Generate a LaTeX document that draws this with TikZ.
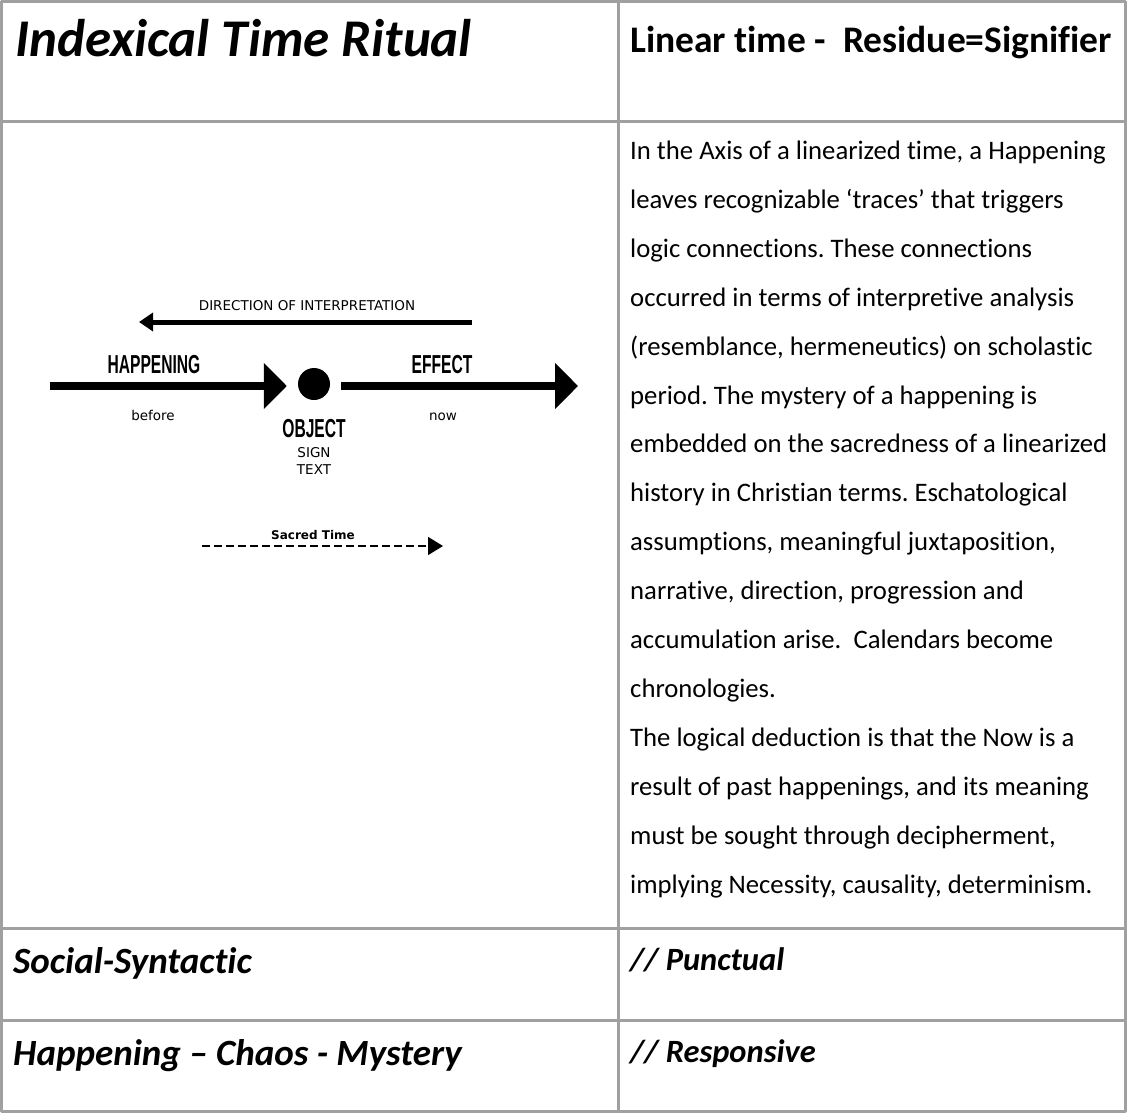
\documentclass[tikz,border=0pt]{standalone}
\usepackage{fontspec}
\usepackage{graphicx}
\setmainfont{Carlito}[Ligatures=NoCommon]
\newfontfamily\verdfont{DejaVu Sans}
\newfontfamily\condfont{Liberation Sans}
\usetikzlibrary{arrows.meta}
\definecolor{rulegrey}{RGB}{160,160,160}
\newcommand{\condtext}[1]{\scalebox{0.6}[1]{\condfont\bfseries #1}}
\frenchspacing

\begin{document}
\begin{tikzpicture}[x=1pt, y=-1pt, line join=round,
    rule/.style={draw=rulegrey, line width=3pt},
    cell/.style={anchor=base west, inner sep=0pt},
    bigtitle/.style={cell, font=\fontsize{53}{58}\selectfont\bfseries\itshape},
    subtitle/.style={cell, font=\fontsize{37.5}{42}\selectfont\bfseries},
    rowtitle/.style={cell, font=\fontsize{37}{42}\selectfont\bfseries\itshape},
    rowtag/.style={cell, font=\fontsize{32.5}{38}\selectfont\bfseries\itshape},
    bodyline/.style={cell, font=\fontsize{26.7}{32}\selectfont},
    small/.style={anchor=base, inner sep=0pt, font=\verdfont\fontsize{13.5}{16}\selectfont},
    cond/.style={anchor=base, inner sep=0pt, font=\fontsize{26}{30}\selectfont},
    bigarrow/.style={line width=8pt, -{Triangle[length=23pt,width=45pt]}},
    dirarrow/.style={line width=5pt, -{Triangle[length=14pt,width=18pt]}},
    sacarrow/.style={line width=1.5pt, dash pattern=on 8pt off 4pt, -{Triangle[length=15pt,width=18pt]}}]
    \useasboundingbox (0,0) rectangle (1127,1113);
    % table
    \draw[rule] (1.5,1.5) rectangle (1125.5,1111.5);
    \draw[rule] (618,1.5)--(618,1111.5);
    \foreach \y in {122,928,1020}\draw[rule] (1.5,\y)--(1125.5,\y);
    % headings
    \node[bigtitle] (title) at (15,57) {Indexical Time Ritual};
    \node[subtitle] (linear) at (630,53) {Linear time -~ Residue=Signifier};
    \node[rowtitle] (social) at (13,973) {Social-Syntactic};
    \node[rowtitle] (chaos) at (13,1065) {Happening – Chaos - Mystery};
    \node[rowtag] (punctual) at (630,970) {// Punctual};
    \node[rowtag] (responsive) at (630,1062) {// Responsive};
    % text of the right cell
    \foreach \t [count=\i] in {{In the Axis of a linearized time, a Happening},
        {leaves recognizable ‘traces’ that triggers},
        {logic connections. These connections},
        {occurred in terms of interpretive analysis},
        {(resemblance, hermeneutics) on scholastic},
        {period. The mystery of a happening is},
        {embedded on the sacredness of a linearized},
        {history in Christian terms. Eschatological},
        {assumptions, meaningful juxtaposition,},
        {narrative, direction, progression and},
        {accumulation arise.~ Calendars become},
        {chronologies.},
        {The logical deduction is that the Now is a},
        {result of past happenings, and its meaning},
        {must be sought through decipherment,},
        {implying Necessity, causality, determinism.}}
        \node[bodyline] (line\i) at (630,{159.5+48.9*(\i-1)}) {\t};
    % diagram
    \node[circle, fill=black, minimum size=32pt, inner sep=0pt] (obj) at (314,384) {};
    \coordinate (hapstart) at (50,386);
    \coordinate (effend) at (578,386);
    \coordinate (dirstart) at (472,322);
    \coordinate (dirend) at (139,322);
    \coordinate (sacstart) at (202,546);
    \coordinate (sacend) at (443,546);
    \draw[bigarrow] (hapstart) -- ([xshift=-11pt]obj.west |- hapstart);
    \draw[bigarrow] ([xshift=11pt]obj.east |- effend) -- (effend);
    \draw[dirarrow] (dirstart) -- (dirend);
    \draw[sacarrow] (sacstart) -- (sacend);
    \node[small] (dirlabel) at (307,310) {DIRECTION OF INTERPRETATION};
    \node[cond] (happening) at (154,373) {\condtext{HAPPENING}};
    \node[cond] (effect) at (442,373) {\condtext{EFFECT}};
    \node[cond] (object) at (314,437) {\condtext{OBJECT}};
    \node[small] (before) at (153,420) {before};
    \node[small] (now) at (443,420) {now};
    \node[small] (sign) at (314,457) {SIGN};
    \node[small] (text) at (314,474) {TEXT};
    \node[small, font=\verdfont\bfseries\fontsize{12}{14}\selectfont] (sacred) at (313,539) {Sacred Time};
\end{tikzpicture}
\end{document}
